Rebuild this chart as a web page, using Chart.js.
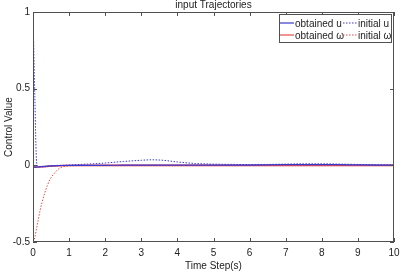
<!DOCTYPE html>
<html>
<head>
<meta charset="utf-8">
<script src="https://cdn.jsdelivr.net/npm/chart.js@4/dist/chart.umd.min.js"></script>
<style>
  html, body { margin: 0; padding: 0; background: #fff; }
  #wrap { position: relative; width: 400px; height: 272px; }
</style>
</head>
<body>
<div id="wrap"><canvas id="c" width="400" height="272"></canvas></div>
<script>
// time axis (s)
const timeSteps = [0, 0.05, 0.1, 0.15, 0.2, 0.3, 0.4, 0.5, 0.6, 0.7, 0.8, 1, 1.5, 2, 2.5, 3, 3.3, 3.6, 4, 4.5, 5, 5.5, 6, 6.5, 7, 7.5, 8, 8.5, 9, 9.5, 10];

// series
const obtainedU = [-0.01, -0.012, -0.012, -0.01, -0.009, -0.007, -0.005, -0.004, -0.003, -0.002, -0.001, 0, 0, 0, 0.001, 0.001, 0.001, 0.001, 0.001, 0.001, 0.001, 0.001, 0.002, 0.003, 0.004, 0.005, 0.005, 0.004, 0.003, 0.002, 0.001];
const initialU = [1, 0.45, 0.02, -0.01, -0.01, -0.01, -0.006, -0.003, -0.001, 0, 0, 0.002, 0.008, 0.015, 0.025, 0.033, 0.036, 0.033, 0.022, 0.012, 0.008, 0.006, 0.005, 0.006, 0.008, 0.01, 0.01, 0.008, 0.006, 0.004, 0.003];
const obtainedW = [-0.012, -0.012, -0.011, -0.011, -0.01, -0.009, -0.007, -0.005, -0.004, -0.003, -0.002, -0.001, 0, 0, 0, 0, 0, 0, 0, 0, 0, 0, 0, 0, 0, 0, 0, 0, 0, 0, 0];
const initialW = [-0.5, -0.47, -0.41, -0.35, -0.29, -0.2, -0.13, -0.08, -0.05, -0.025, -0.012, -0.004, -0.002, -0.002, -0.002, -0.002, -0.002, -0.002, -0.002, -0.002, -0.002, -0.002, -0.002, -0.002, -0.002, -0.002, -0.002, -0.002, -0.002, -0.002, -0.002];

const xTicks = [0, 1, 2, 3, 4, 5, 6, 7, 8, 9, 10];
const yTicks = [-0.5, 0, 0.5, 1];

const FONT = "Liberation Sans, Arial, Helvetica, sans-serif";
const AX = "#505050";
const BLUE = "#3a3ad0";
const RED = "#e84a4a";

const pts = (ys) => timeSteps.map((t, i) => ({ x: t, y: ys[i] }));

// MATLAB-ish box, inward ticks, title and legend
const boxPlugin = {
  id: "box",
  afterDraw(chart) {
    const { ctx, chartArea: a, scales } = chart;
    ctx.save();
    ctx.strokeStyle = AX;
    ctx.lineWidth = 1;
    ctx.strokeRect(a.left + 0.5, a.top + 0.5, a.right - a.left - 1, a.bottom - a.top - 1);
    ctx.beginPath();
    xTicks.forEach((v) => {
      const x = Math.round(scales.x.getPixelForValue(v)) + 0.5;
      ctx.moveTo(x, a.bottom); ctx.lineTo(x, a.bottom - 4);
      ctx.moveTo(x, a.top); ctx.lineTo(x, a.top + 4);
    });
    yTicks.forEach((v) => {
      const y = Math.round(scales.y.getPixelForValue(v)) + 0.5;
      ctx.moveTo(a.left, y); ctx.lineTo(a.left + 4, y);
      ctx.moveTo(a.right, y); ctx.lineTo(a.right - 4, y);
    });
    ctx.stroke();

    // title
    ctx.fillStyle = "#222";
    ctx.font = "10px " + FONT;
    ctx.textAlign = "center";
    ctx.textBaseline = "middle";
    ctx.fillText("input Trajectories", (a.left + a.right) / 2, 5);

    // legend
    const lx = 279, ly = 14, lw = 112, lh = 28;
    ctx.fillStyle = "#fff";
    ctx.fillRect(lx, ly, lw, lh);
    ctx.strokeStyle = AX;
    ctx.strokeRect(lx + 0.5, ly + 0.5, lw, lh);
    const items = [
      { t: "obtained u", c: BLUE, d: [], x: lx + 1, y: ly + 9 },
      { t: "initial u", c: BLUE, d: [1.5, 1.5], x: lx + 64, y: ly + 9 },
      { t: "obtained ω", c: RED, d: [], x: lx + 1, y: ly + 21 },
      { t: "initial ω", c: RED, d: [1.5, 1.5], x: lx + 64, y: ly + 21 },
    ];
    ctx.textAlign = "left";
    items.forEach((it) => {
      ctx.save();
      ctx.strokeStyle = it.c;
      ctx.lineWidth = 1.2;
      ctx.setLineDash(it.d);
      ctx.beginPath();
      ctx.moveTo(it.x, it.y); ctx.lineTo(it.x + 14, it.y);
      ctx.stroke();
      ctx.restore();
      ctx.fillStyle = "#222";
      ctx.fillText(it.t, it.x + 15, it.y + 1);
    });
    ctx.restore();
  },
};

new Chart(document.getElementById("c"), {
  type: "line",
  data: {
    datasets: [
      { label: "obtained u", data: pts(obtainedU), borderColor: BLUE, borderWidth: 1.2 },
      { label: "initial u", data: pts(initialU), borderColor: BLUE, borderWidth: 1, borderDash: [1.5, 1.5] },
      { label: "obtained ω", data: pts(obtainedW), borderColor: RED, borderWidth: 1.6 },
      { label: "initial ω", data: pts(initialW), borderColor: RED, borderWidth: 1, borderDash: [1.5, 1.5] },
    ],
  },
  options: {
    responsive: false,
    animation: false,
    devicePixelRatio: 1,
    layout: { padding: { top: 12, right: 6, left: 3, bottom: 0 } },
    elements: { point: { radius: 0 }, line: { cubicInterpolationMode: "monotone", fill: false } },
    plugins: { legend: { display: false }, tooltip: { enabled: false } },
    scales: {
      x: {
        type: "linear",
        min: 0,
        max: 10,
        afterBuildTicks: (s) => { s.ticks = xTicks.map((v) => ({ value: v })); },
        afterFit: (s) => { s.height = 30; s.paddingLeft = 0; s.paddingRight = 0; },
        grid: { display: false, drawTicks: false },
        border: { display: false },
        ticks: { color: "#222", font: { size: 10, family: FONT }, padding: 5 },
        title: { display: true, text: "Time Step(s)", color: "#222", font: { size: 10, family: FONT }, padding: 0 },
      },
      y: {
        min: -0.5,
        max: 1,
        afterBuildTicks: (s) => { s.ticks = yTicks.map((v) => ({ value: v })); },
        afterFit: (s) => { s.width = 30; s.paddingTop = 0; s.paddingBottom = 0; },
        grid: { display: false, drawTicks: false },
        border: { display: false },
        ticks: { color: "#222", font: { size: 10, family: FONT }, padding: 3, callback: (v) => String(v) },
        title: { display: true, text: "Control Value", color: "#222", font: { size: 10, family: FONT }, padding: 0 },
      },
    },
  },
  plugins: [boxPlugin],
});
</script>
</body>
</html>
